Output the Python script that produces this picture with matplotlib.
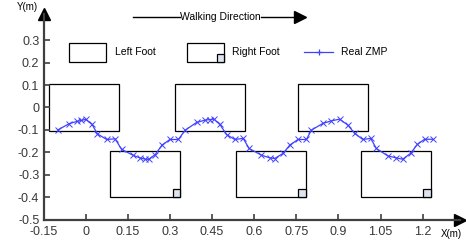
import matplotlib
matplotlib.use('Agg')
import matplotlib.pyplot as plt
from matplotlib.patches import Rectangle
from matplotlib.lines import Line2D

plt.rcParams['font.family'] = ['Liberation Sans', 'DejaVu Sans']

# foot rectangles (x start, y start, width, height) in metres
left_x = [-0.13, 0.318, 0.756]
left_y = -0.105
right_x = [0.087, 0.534, 0.98]
right_y = -0.40
foot_w = 0.25
left_h = 0.208
right_h = 0.206

# measured ZMP trajectory
zmp_x = [-0.100, -0.058, -0.030, -0.015, 0.000, 0.023, 0.042, 0.075, 0.105, 0.128,
         0.170, 0.195, 0.210, 0.224, 0.248, 0.272, 0.300, 0.330, 0.355,
         0.395, 0.424, 0.442, 0.457, 0.478, 0.502, 0.531, 0.561, 0.582,
         0.626, 0.656, 0.673, 0.703, 0.727, 0.756, 0.786, 0.804,
         0.845, 0.875, 0.904, 0.934, 0.958, 0.987, 1.015, 1.035,
         1.076, 1.106, 1.129, 1.157, 1.181, 1.207, 1.236]
zmp_y = [-0.101, -0.072, -0.062, -0.058, -0.053, -0.076, -0.118, -0.143, -0.140, -0.187,
         -0.214, -0.226, -0.230, -0.232, -0.210, -0.168, -0.143, -0.143, -0.101,
         -0.067, -0.057, -0.054, -0.052, -0.076, -0.121, -0.143, -0.138, -0.183,
         -0.213, -0.225, -0.228, -0.205, -0.168, -0.143, -0.143, -0.101,
         -0.071, -0.060, -0.052, -0.079, -0.116, -0.143, -0.138, -0.183,
         -0.216, -0.225, -0.231, -0.205, -0.165, -0.142, -0.142]

xticks = [-0.15, 0, 0.15, 0.3, 0.45, 0.6, 0.75, 0.9, 1.05, 1.2]
xtick_labels = ['-0.15', '0', '0.15', '0.3', '0.45', '0.6', '0.75', '0.9', '1.05', '1.2']
yticks = [-0.5, -0.4, -0.3, -0.2, -0.1, 0, 0.1, 0.2, 0.3]
ytick_labels = ['-0.5', '-0.4', '-0.3', '-0.2', '-0.1', '0', '0.1', '0.2', '0.3']

axis_col = '#404040'
zmp_col = '#4040ff'
sq_col = '#dde4ee'

fig = plt.figure(figsize=(4.66, 2.41), dpi=100)
ax = fig.add_axes([43.5 / 466, 21.5 / 241, (460 - 43.5) / 466, (219.5 - 14) / 241])

for x0 in left_x:
    ax.add_patch(Rectangle((x0, left_y), foot_w, left_h, fill=False, ec='black', lw=0.9))
for x0 in right_x:
    ax.add_patch(Rectangle((x0, right_y), foot_w, right_h, fill=False, ec='black', lw=0.9))
    ax.add_patch(Rectangle((x0 + foot_w - 0.027, right_y), 0.027, 0.036,
                           fc=sq_col, ec='black', lw=0.9))

ax.plot(zmp_x, zmp_y, color=zmp_col, lw=0.9, marker='x', ms=3.8, mew=0.7)

ax.set_xlim(-0.15, 1.333)
ax.set_ylim(-0.5, 0.417)
ax.set_xticks(xticks)
ax.set_xticklabels(xtick_labels)
ax.set_yticks(yticks)
ax.set_yticklabels(ytick_labels)
ax.tick_params(direction='in', length=4, width=1.2, color=axis_col,
               labelsize=9, labelcolor='#383838')
ax.tick_params(axis='x', pad=4.5)
ax.tick_params(axis='y', pad=3)
for s in ['top', 'right']:
    ax.spines[s].set_visible(False)
for s in ['left', 'bottom']:
    ax.spines[s].set_color(axis_col)
    ax.spines[s].set_linewidth(1.6)

# axis arrows
ax.plot(1, 0, marker='>', color='black', ms=8, transform=ax.transAxes, clip_on=False)
ax.plot(0, 1, marker='^', color='black', ms=8, transform=ax.transAxes, clip_on=False)
fig.text(17 / 466, 1 - 7 / 241, 'Y(m)', fontsize=7, va='center', ha='left')
fig.text(441 / 466, 1 - 234 / 241, 'X(m)', fontsize=7, va='center', ha='left')

# legend
fig.add_artist(Rectangle((69 / 466, 1 - 62 / 241), 37 / 466, 19 / 241, fill=False,
                         ec='black', lw=0.9, transform=fig.transFigure))
fig.text(115 / 466, 1 - 52 / 241, 'Left Foot', fontsize=7.5, va='center')
fig.add_artist(Rectangle((187 / 466, 1 - 62 / 241), 37 / 466, 19 / 241, fill=False,
                         ec='black', lw=0.9, transform=fig.transFigure))
fig.add_artist(Rectangle((216.5 / 466, 1 - 62 / 241), 7.5 / 466, 8 / 241, fc=sq_col,
                         ec='black', lw=0.9, transform=fig.transFigure))
fig.text(232 / 466, 1 - 52 / 241, 'Right Foot', fontsize=7.5, va='center')
fig.add_artist(Line2D([304 / 466, 333 / 466], [1 - 52 / 241, 1 - 52 / 241], color=zmp_col,
                      lw=0.9, transform=fig.transFigure))
fig.add_artist(Line2D([318.5 / 466], [1 - 52 / 241], color=zmp_col, marker='+', ms=5,
                      mew=0.9, transform=fig.transFigure))
fig.text(341 / 466, 1 - 52 / 241, 'Real ZMP', fontsize=7.5, va='center')

# walking direction
fig.add_artist(Line2D([133 / 466, 180 / 466], [1 - 17 / 241, 1 - 17 / 241], color='black',
                      lw=1.0, transform=fig.transFigure))
fig.text(180 / 466, 1 - 17 / 241, 'Walking Direction', fontsize=7.5, va='center')
fig.add_artist(Line2D([261 / 466, 295 / 466], [1 - 17 / 241, 1 - 17 / 241], color='black',
                      lw=1.0, transform=fig.transFigure))
fig.add_artist(Line2D([300 / 466], [1 - 17 / 241], color='black', marker='>', ms=8,
                      transform=fig.transFigure))

fig.savefig('out.png', dpi=100)
